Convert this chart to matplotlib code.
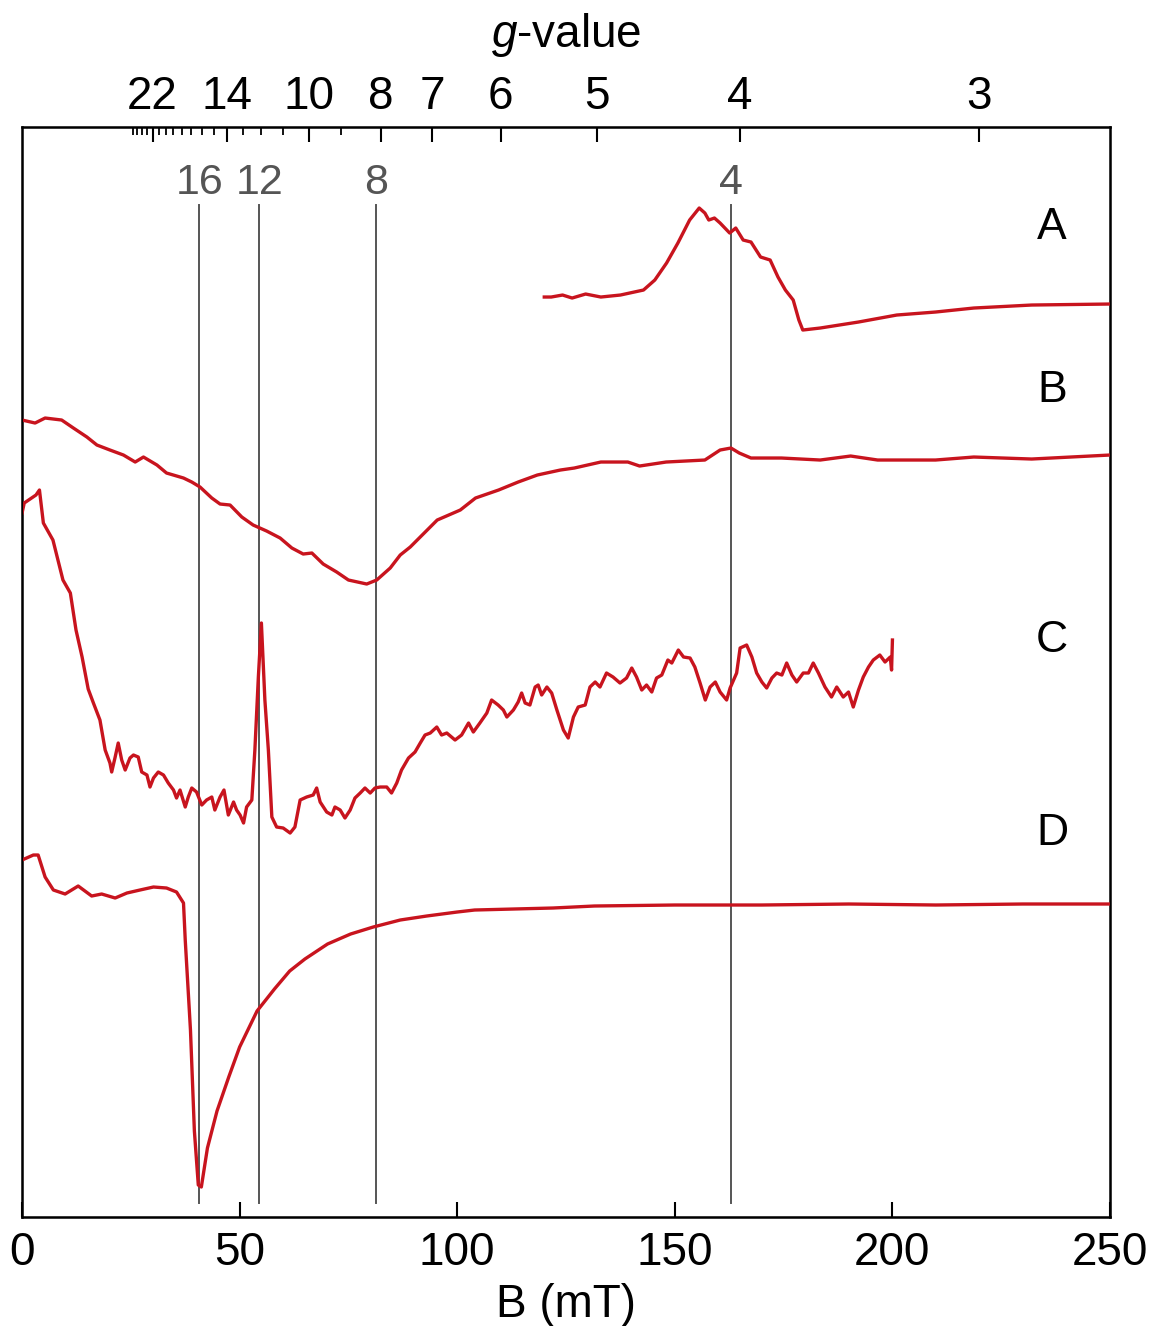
import matplotlib
matplotlib.use("Agg")
import matplotlib.pyplot as plt
import numpy as np

plt.rcParams['font.family'] = ['Liberation Sans', 'DejaVu Sans']
plt.rcParams['mathtext.fontset'] = 'custom'
plt.rcParams['mathtext.it'] = 'Liberation Sans:italic'
plt.rcParams['mathtext.rm'] = 'Liberation Sans'

# spectra, field in mT, signal in arbitrary units (already stacked)
a_field = [120, 121.6, 124.2, 126.4, 129.5, 133, 137.5, 142.8, 145.4, 148.1,
           150.7, 153.4, 155.6, 156.9, 157.8, 159.1, 160.4, 162.6, 164, 165.7,
           167.5, 169.7, 171.9, 173.7, 175.4, 177.2, 178.5, 179.4, 183.4, 192.2,
           201, 209.9, 218.7, 232, 250]
a_sig = [920, 920, 922, 919, 923, 920, 922, 927, 937, 954,
         974, 997, 1009, 1004, 997, 999, 994, 984, 989, 977,
         975, 960, 957, 940, 927, 917, 897, 887, 889, 895,
         902, 905, 909, 912, 913]

b_field = [0, 3, 5.3, 9.1, 11.8, 14.9, 17.2, 20.2, 23.3, 26,
           27.9, 31, 33.2, 37.1, 39, 40.9, 43.6, 45.5, 47.8, 50.5,
           53.1, 56.2, 59.3, 62, 64.6, 66.6, 69.2, 72.3, 75, 79.2,
           81.5, 84.6, 86.9, 89.2, 95.4, 100.7, 104.2, 109.5, 114, 118.4,
           123.7, 126.9, 133, 139.2, 141.9, 148, 156.9, 160.4, 162.9, 164.8,
           167.5, 174.5, 183.4, 190.4, 196.6, 209.9, 218.7, 232, 250]
b_sig = [797, 794, 799, 797, 789, 780, 772, 767, 762, 755,
         760, 752, 744, 739, 735, 730, 719, 713, 712, 700,
         692, 686, 679, 669, 663, 664, 653, 645, 637, 633,
         637, 649, 662, 670, 697, 707, 719, 727, 735, 742,
         747, 749, 755, 755, 751, 755, 757, 767, 769, 764,
         759, 759, 757, 761, 757, 757, 760, 758, 762]

c_field = [0, 0.5, 3.2, 4, 4.9, 5.8, 7.1, 9.4, 11.1, 12.4,
           13.8, 15.2, 16.4, 17.9, 19.1, 20.2, 20.6, 21.4, 22.1, 22.9,
           23.7, 24.8, 25.6, 26.7, 27.5, 28.7, 29.4, 30.2, 31.3, 32.5,
           33.6, 34.8, 35.5, 36.3, 37.5, 38.2, 39, 40.1, 41.3, 42.4,
           43.6, 44.3, 45.5, 46.4, 47.4, 48.6, 49.3, 50.1, 50.9, 51.6,
           52.8, 53.5, 54.3, 55.0, 55.8, 56.6, 57.4, 58.5, 60, 61.6,
           62.7, 63.9, 65.4, 66.9, 67.7, 68.5, 70, 71.2, 71.9, 73.1,
           74.2, 75.4, 76.5, 77.7, 78.8, 80, 81.1, 82.3, 83.8, 84.9,
           86.1, 87.2, 88.8, 90.3, 91.5, 92.6, 93.8, 95.3, 96.4, 97.6,
           99.5, 101, 102.6, 103.7, 105.2, 106.8, 107.9, 109.4, 110.6, 111.4,
           112.9, 114, 114.8, 115.6, 116.7, 117.9, 118.6, 119.4, 120.6, 121.7,
           122.9, 124.4, 125.5, 126.7, 127.8, 129.4, 130.5, 131.7, 132.8, 134.3,
           135.8, 137.4, 138.9, 140.1, 141.2, 142.4, 143.5, 144.7, 145.8, 147,
           148.4, 149.3, 150.8, 152, 153.5, 154.6, 155.8, 157, 158.1, 159.3,
           160.4, 161.9, 162.7, 164.2, 165, 166.5, 167.7, 168.8, 170, 171.1,
           172.3, 173.4, 174.6, 175.7, 176.9, 178, 179.5, 180.7, 181.8, 183,
           184.5, 186, 187.2, 188.7, 189.9, 191, 192.2, 193.3, 194.5, 195.6,
           197.1, 198.3, 199.5, 199.8, 200]
c_sig = [704, 714, 722, 727, 694, 687, 677, 637, 624, 587,
         560, 528, 514, 497, 467, 454, 445, 460, 474, 457,
         447, 459, 462, 460, 445, 442, 430, 439, 445, 442,
         434, 427, 419, 427, 410, 420, 429, 425, 412, 417,
         420, 407, 420, 427, 402, 415, 407, 402, 394, 410,
         417, 467, 540, 594, 517, 467, 400, 390, 389, 384,
         390, 417, 420, 422, 429, 415, 405, 402, 410, 407,
         399, 407, 419, 424, 429, 424, 429, 430, 430, 424,
         434, 447, 459, 465, 474, 482, 484, 490, 482, 484,
         477, 482, 494, 485, 494, 504, 517, 512, 507, 500,
         507, 515, 524, 514, 512, 530, 532, 522, 530, 524,
         507, 487, 479, 500, 510, 512, 530, 535, 530, 544,
         540, 534, 539, 549, 540, 527, 532, 525, 539, 542,
         557, 554, 567, 560, 559, 550, 534, 517, 530, 535,
         525, 517, 529, 544, 569, 572, 560, 544, 535, 529,
         539, 544, 542, 554, 542, 535, 544, 544, 554, 544,
         530, 520, 530, 520, 525, 510, 527, 540, 550, 557,
         562, 555, 560, 547, 577]

d_field = [0, 2.6, 3.7, 5.3, 7.2, 9.9, 12.9, 16, 18.3, 21.4,
           24.1, 27.1, 30.2, 33.2, 35.5, 37.1, 37.5, 38.7, 39.6, 40.5,
           41.2, 42.6, 44.8, 47.5, 50, 54, 58, 61.5, 65, 70.2,
           75.5, 80.7, 86.9, 93, 100, 104, 113, 122, 131.5, 150,
           170, 190, 210, 230, 250]
d_sig = [357, 362, 362, 340, 327, 323, 331, 321, 323, 319,
         324, 327, 330, 329, 325, 314, 277, 187, 86, 32,
         30, 69, 106, 140, 170, 206, 228, 246, 258, 273,
         283, 290, 297, 301, 305, 307, 308, 309, 311, 312,
         312, 313, 312, 313, 313]

trace_names = ['A', 'B', 'C', 'D']
trace_label_y = [990, 827, 577, 384]

# marker lines (g = 16, 12, 8, 4)
marker_g = ['16', '12', '8', '4']
marker_field = [40.7, 54.5, 81.3, 162.9]

# top g-value axis
g_major = [22, 14, 10, 8, 7, 6, 5, 4, 3]
g_minor = [26, 25, 24, 23, 21, 20, 19, 18, 17, 16, 15, 13, 12, 11, 9]
g_const = 660.0  # B(mT) = g_const / g

red = '#c8141e'
grey = '#555555'

fig = plt.figure(figsize=(11.54, 13.26), dpi=100)
ax = fig.add_axes([0.0191, 0.0822, 0.9428, 0.8220])

for xs, ys in [(a_field, a_sig), (b_field, b_sig), (c_field, c_sig), (d_field, d_sig)]:
    ax.plot(xs, ys, color=red, lw=2.4, solid_joinstyle='round', zorder=3)

for bf, lab in zip(marker_field, marker_g):
    ax.plot([bf, bf], [14, 1012], color=grey, lw=1.4, zorder=2)
    ax.text(bf, 1034, lab, color=grey, fontsize=31, ha='center', va='center')

for name, yy in zip(trace_names, trace_label_y):
    ax.text(236.7, yy, name, fontsize=32, ha='center', va='center')

ax.set_xlim(0, 250)
ax.set_ylim(0, 1090)
ax.set_yticks([])
ax.set_xticks([0, 50, 100, 150, 200, 250])
ax.tick_params(axis='x', direction='in', length=11, width=1.5, labelsize=33, pad=10)
ax.set_xlabel('B (mT)', fontsize=33, labelpad=6)
for s in ax.spines.values():
    s.set_linewidth(1.8)

ax2 = ax.twiny()
ax2.set_xlim(0, 250)
ax2.set_xticks([g_const / g for g in g_major])
ax2.set_xticklabels([str(g) for g in g_major])
ax2.set_xticks([g_const / g for g in g_minor], minor=True)
ax2.tick_params(axis='x', which='major', direction='in', length=11, width=1.5, labelsize=33, pad=6)
ax2.tick_params(axis='x', which='minor', direction='in', length=6, width=1.3)
ax2.set_xlabel(r'$\mathit{g}$-value', fontsize=33, labelpad=20)

fig.savefig('out.png', dpi=100)
